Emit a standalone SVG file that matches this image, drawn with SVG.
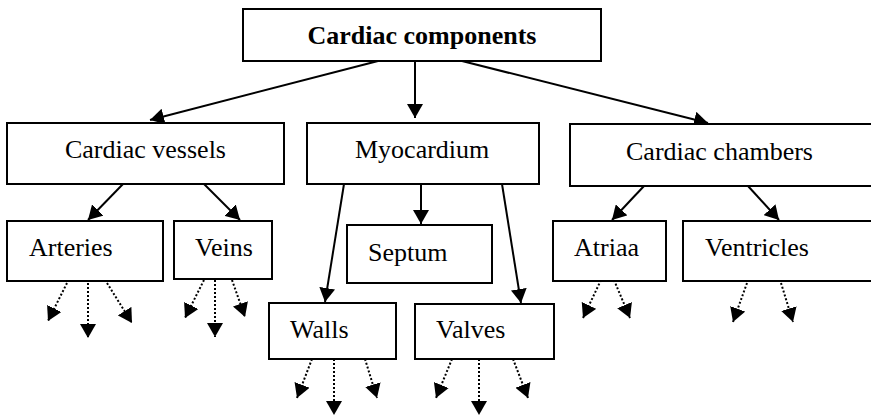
<svg xmlns="http://www.w3.org/2000/svg" width="871" height="416" viewBox="0 0 871 416">
  <style>
    .box { fill: #fff; stroke: #000; stroke-width: 2; }
    .lbl { font-family: "Liberation Serif", "Times New Roman", serif; font-size: 26px; fill: #000; }
    .title { font-weight: bold; }
    .link { stroke: #000; stroke-width: 2; fill: none; marker-end: url(#head); }
    .sub { stroke: #000; stroke-width: 2; fill: none; stroke-dasharray: 2 2; marker-end: url(#head); }
  </style>
  <defs>
    <marker id="head" markerUnits="userSpaceOnUse" markerWidth="15" markerHeight="16" refX="14" refY="8" orient="auto" viewBox="0 0 15 16">
      <path d="M0,0 L14,8 L0,16 z" fill="#000"/>
    </marker>
  </defs>
  <rect width="871" height="416" fill="#fff"/>

  <g id="connectors">
    <!-- root to level 1 -->
    <line class="link" x1="378" y1="61" x2="150" y2="120"/>
    <line class="link" x1="415" y1="61" x2="415" y2="118"/>
    <line class="link" x1="462" y1="61" x2="708" y2="123"/>
    <!-- cardiac vessels -->
    <line class="link" x1="123" y1="184" x2="88" y2="220"/>
    <line class="link" x1="204" y1="184" x2="240" y2="220"/>
    <!-- myocardium -->
    <line class="link" x1="344" y1="184" x2="325" y2="302"/>
    <line class="link" x1="421" y1="184" x2="421" y2="224"/>
    <line class="link" x1="502" y1="184" x2="521" y2="303"/>
    <!-- cardiac chambers -->
    <line class="link" x1="644" y1="186" x2="612" y2="220"/>
    <line class="link" x1="748" y1="186" x2="779" y2="220"/>
    <!-- dotted continuations -->
    <line class="sub" x1="67" y1="283" x2="48" y2="321"/>
    <line class="sub" x1="88" y1="283" x2="88" y2="338"/>
    <line class="sub" x1="107" y1="283" x2="132" y2="323"/>
    <line class="sub" x1="204" y1="280" x2="185" y2="318"/>
    <line class="sub" x1="215" y1="280" x2="215" y2="337"/>
    <line class="sub" x1="232" y1="280" x2="245" y2="317"/>
    <line class="sub" x1="312" y1="359" x2="297" y2="398"/>
    <line class="sub" x1="334" y1="359" x2="334" y2="415"/>
    <line class="sub" x1="365" y1="359" x2="377" y2="398"/>
    <line class="sub" x1="452" y1="359" x2="436" y2="398"/>
    <line class="sub" x1="479" y1="359" x2="479" y2="415"/>
    <line class="sub" x1="513" y1="359" x2="528" y2="398"/>
    <line class="sub" x1="601" y1="280" x2="583" y2="318"/>
    <line class="sub" x1="614" y1="280" x2="630" y2="318"/>
    <line class="sub" x1="747" y1="283" x2="733" y2="322"/>
    <line class="sub" x1="781" y1="283" x2="793" y2="322"/>
  </g>

  <g id="cardiac-components">
    <rect class="box" x="243" y="9" width="358" height="52"/>
    <text class="lbl title" x="422" y="44" text-anchor="middle">Cardiac components</text>
  </g>
  <g id="cardiac-vessels">
    <rect class="box" x="7" y="123" width="277" height="61"/>
    <text class="lbl" x="145.5" y="158" text-anchor="middle">Cardiac vessels</text>
  </g>
  <g id="myocardium">
    <rect class="box" x="307" y="123" width="232" height="61"/>
    <text class="lbl" x="355" y="158">Myocardium</text>
  </g>
  <g id="cardiac-chambers">
    <rect class="box" x="570" y="124" width="320" height="62"/>
    <text class="lbl" x="626" y="160">Cardiac chambers</text>
  </g>
  <g id="arteries">
    <rect class="box" x="7" y="221" width="156" height="60"/>
    <text class="lbl" x="29" y="256">Arteries</text>
  </g>
  <g id="veins">
    <rect class="box" x="174" y="221" width="98" height="58"/>
    <text class="lbl" x="195" y="256">Veins</text>
  </g>
  <g id="septum">
    <rect class="box" x="347" y="225" width="145" height="58"/>
    <text class="lbl" x="368" y="261">Septum</text>
  </g>
  <g id="walls">
    <rect class="box" x="269" y="303" width="127" height="56"/>
    <text class="lbl" x="290" y="338">Walls</text>
  </g>
  <g id="valves">
    <rect class="box" x="415" y="304" width="139" height="55"/>
    <text class="lbl" x="436" y="338">Valves</text>
  </g>
  <g id="atriaa">
    <rect class="box" x="553" y="221" width="113" height="60"/>
    <text class="lbl" x="574" y="256">Atriaa</text>
  </g>
  <g id="ventricles">
    <rect class="box" x="683" y="221" width="207" height="60"/>
    <text class="lbl" x="705" y="256">Ventricles</text>
  </g>
</svg>
